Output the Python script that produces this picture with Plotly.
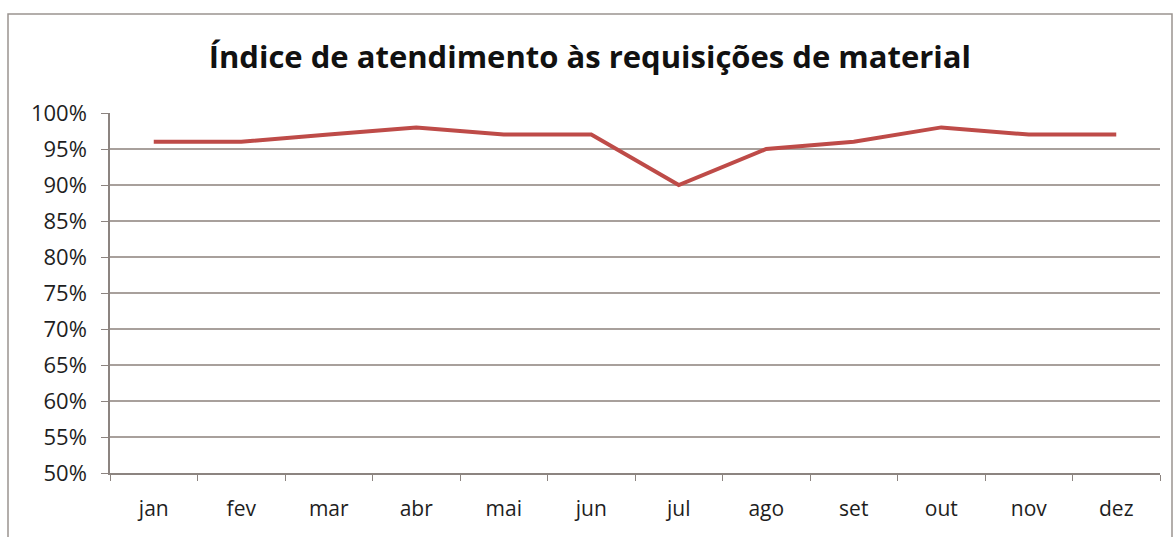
import plotly.graph_objects as go

meses = ['jan', 'fev', 'mar', 'abr', 'mai', 'jun', 'jul', 'ago', 'set', 'out', 'nov', 'dez']
indice = [0.96, 0.96, 0.97, 0.98, 0.97, 0.97, 0.90, 0.95, 0.96, 0.98, 0.97, 0.97]
y_ticks = [0.50, 0.55, 0.60, 0.65, 0.70, 0.75, 0.80, 0.85, 0.90, 0.95, 1.00]

fig = go.Figure(data=[go.Scatter(
    x=meses,
    y=indice,
    mode='lines',
    line=dict(color='#BE4B48', width=4),
    showlegend=False
)])

fig.update_layout(
    width=1175,
    height=537,
    margin=dict(l=110, r=15, t=113, b=64),
    paper_bgcolor='white',
    plot_bgcolor='white',
    font=dict(family="Open Sans", size=21, color="#1E1E1E"),
    title=dict(
        text='<b>Índice de atendimento às requisições de material</b>',
        x=0.502, xanchor='center',
        y=1 - 57 / 537, yanchor='middle',
        font=dict(family="Open Sans", size=31, color="#111111")
    ),
    xaxis=dict(
        showgrid=False,
        showline=True, linecolor='#8C8480', linewidth=1.5,
        ticks='outside', tickson='boundaries', ticklen=6, tickcolor='#8C8480',
        range=[-0.5, 11.5],
        ticklabelstandoff=16,
        tickfont=dict(size=21)
    ),
    yaxis=dict(
        range=[0.50, 1.00],
        tickvals=y_ticks,
        tickformat='.0%',
        showgrid=True, gridcolor='#A8A09C', gridwidth=1.5,
        showline=True, linecolor='#8C8480', linewidth=1.5,
        ticks='outside', ticklen=7, tickcolor='#8C8480',
        zeroline=False,
        ticklabelstandoff=10,
        tickfont=dict(size=22)
    ),
    shapes=[dict(
        type='rect', xref='paper', yref='paper',
        x0=(8 - 110) / 1050, x1=(1172 - 110) / 1050,
        y0=(473 - 545) / 360, y1=(473 - 14) / 360,
        line=dict(color='#9A9490', width=1.5),
        fillcolor='rgba(0,0,0,0)', layer='below'
    )]
)

fig.write_html("out.html", config={'displayModeBar': False},
               post_script="document.body.style.margin='0';")
